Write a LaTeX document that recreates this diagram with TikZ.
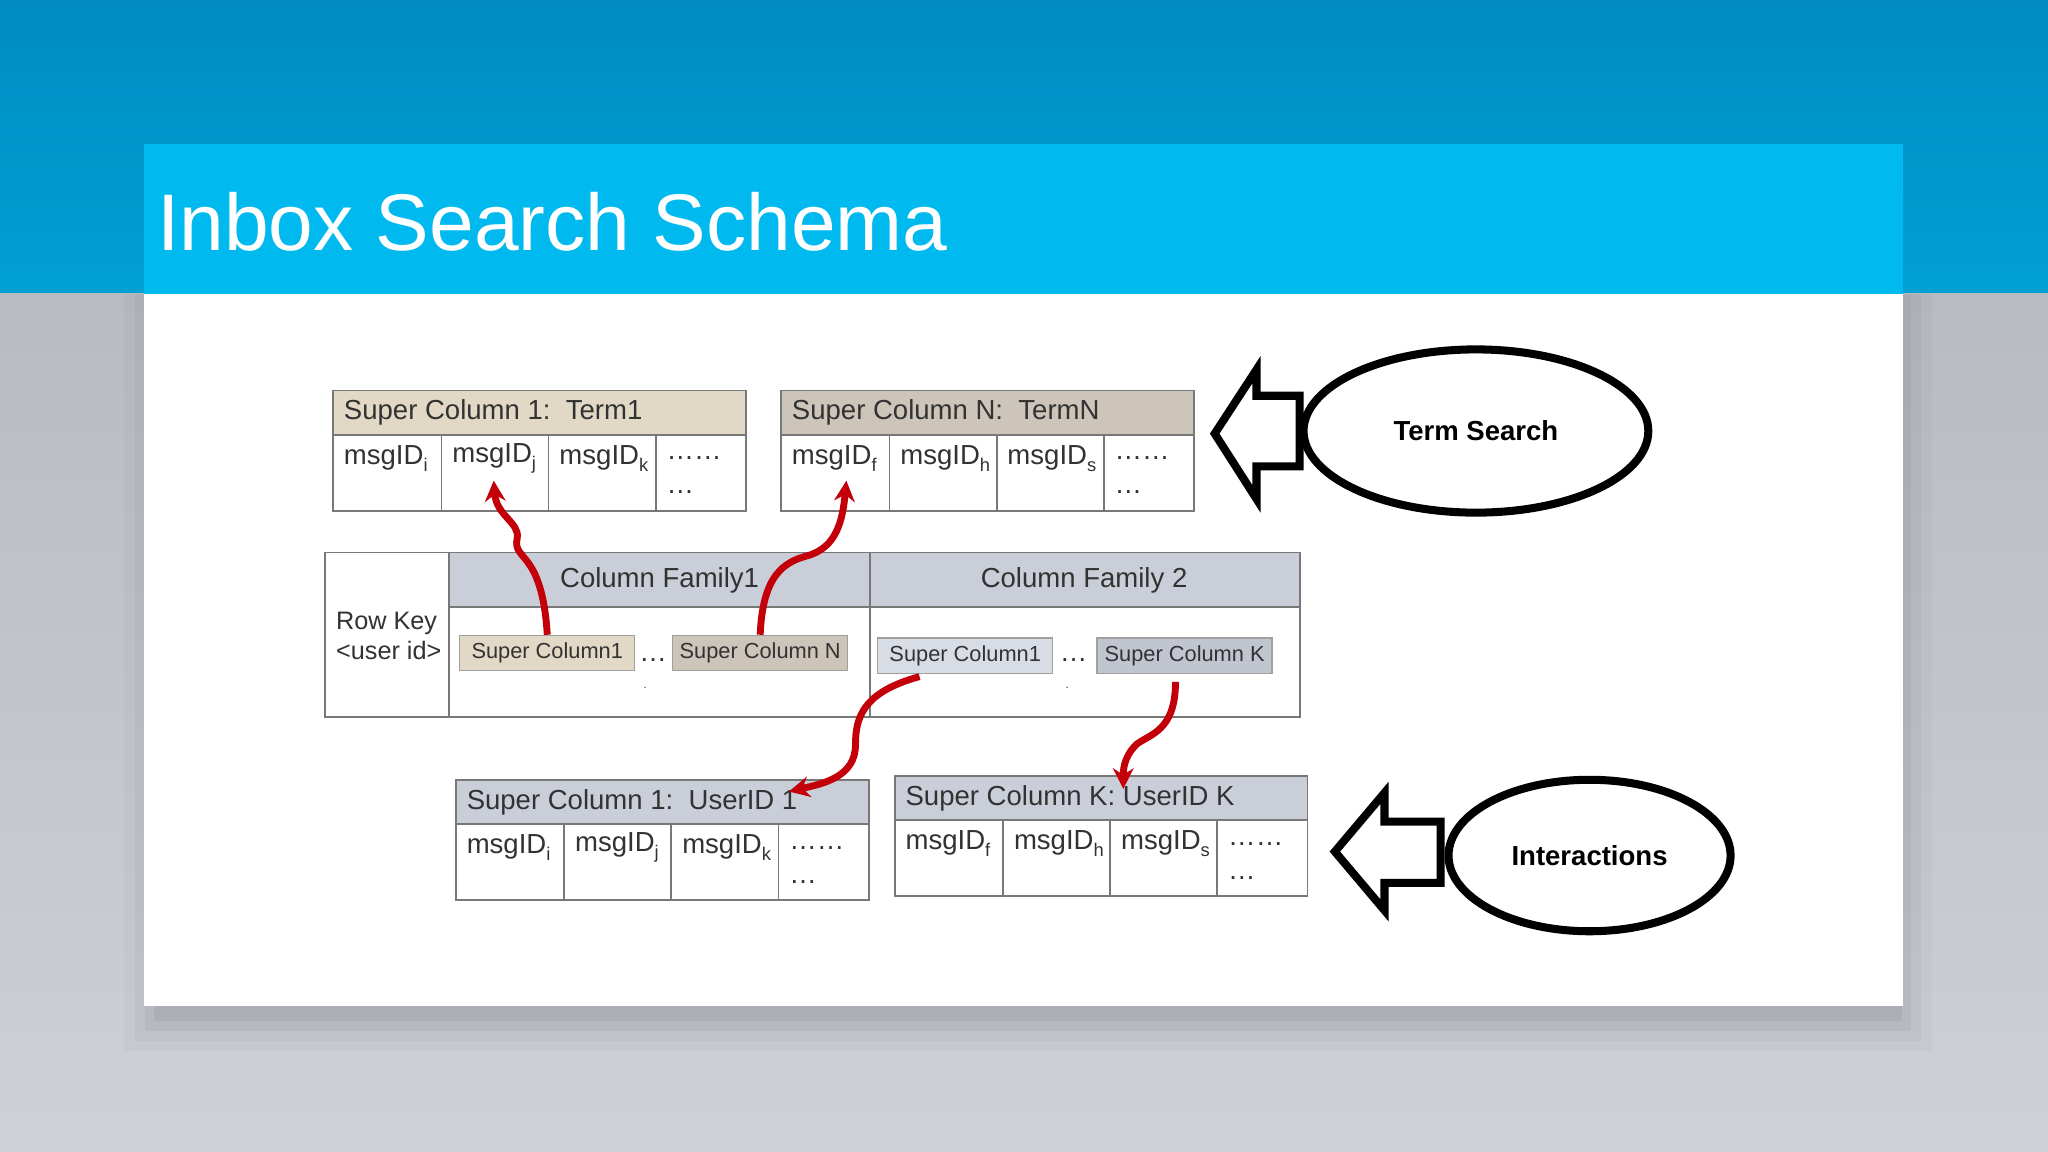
\documentclass[tikz,border=0pt]{standalone}
\usepackage{fontspec}
\setmainfont{Liberation Sans}
\usetikzlibrary{calc,arrows.meta,shapes.geometric}
\definecolor{topbg}{RGB}{0,140,195}
\definecolor{topbg2}{RGB}{0,160,210}
\definecolor{graybg}{RGB}{200,204,210}
\definecolor{titlebar}{RGB}{0,185,238}
\definecolor{beige}{RGB}{226,216,198}
\definecolor{beige2}{RGB}{205,196,186}
\definecolor{bgray}{RGB}{202,206,216}
\definecolor{bgray1}{RGB}{216,220,228}
\definecolor{bgray2}{RGB}{192,197,208}
\definecolor{tline}{RGB}{120,120,120}
\definecolor{arrred}{RGB}{195,0,10}
\definecolor{txt}{RGB}{50,50,50}
\tikzset{
  cell/.style={draw=tline,line width=0.8pt},
  ttext/.style={font=\fontsize{12pt}{14pt}\selectfont,text=txt,inner sep=0pt},
  scbox/.style={draw=tline!70,line width=0.6pt,minimum width=2.68cm,minimum height=0.54cm,font=\fontsize{9.5pt}{11pt}\selectfont,text=txt,inner sep=0pt},
  redarr/.style={draw=arrred,line width=3pt,-{Stealth[length=9pt,width=9pt]}},
  ell/.style={draw=black,line width=3.5pt,ellipse},
  blk/.style={draw=black,line width=3.5pt,fill=white,line join=miter}
}
\newcommand{\msg}[1]{msgID\raisebox{-0.5ex}{\fontsize{8pt}{9pt}\selectfont #1}}
% table: x0, y0, header color, header text, three ids
\newcommand{\mktable}[7]{%
  \fill[#3] (#1,#2) rectangle ++(316,34);
  \draw[cell] (#1,#2) rectangle ++(316,92);
  \draw[cell] (#1,#2+34) -- ++(316,0);
  \foreach \dx in {83,165,247}{\draw[cell] (#1+\dx,#2+34) -- ++(0,58);}
  \node[ttext,anchor=west] at (#1+8,#2+17) {#4};
  \node[ttext,anchor=west] at (#1+8,#2+52) {\msg{#5}};
  \node[ttext,anchor=west] at (#1+91,#2+52) {\msg{#6}};
  \node[ttext,anchor=west] at (#1+173,#2+52) {\msg{#7}};
  \node[ttext,anchor=west] at (#1+255,#2+52) {\ldots\ldots};
  \node[ttext,anchor=west] at (#1+255,#2+78) {\ldots};
}
\begin{document}
\begin{tikzpicture}[x=0.02cm,y=-0.02cm]
\useasboundingbox (0,0) rectangle (1568,882);
\shade[top color=topbg,bottom color=topbg2] (0,0) rectangle (1568,225);
\shade[top color=graybg!92!black,bottom color=graybg!90!white] (0,225) rectangle (1568,882);
% shadow
\foreach \i/\o in {30/0.025,22/0.03,14/0.04,7/0.05}{
  \fill[black,opacity=\o] (110-\i+15,225) rectangle (1457+\i-8,770+\i+5);}
\fill[white] (110,110) rectangle (1457,770);
\fill[titlebar] (110,110) rectangle (1457,225);
\node[anchor=west,text=white,font=\fontsize{35pt}{38pt}\selectfont,inner sep=0pt] (title) at (120,170) {Inbox Search Schema};

\mktable{255}{299}{beige}{Super Column 1:\ \ Term1}{i}{j}{k}
\mktable{598}{299}{beige2}{Super Column N:\ \ TermN}{f}{h}{s}
\mktable{349}{597}{bgray}{Super Column 1:\ \ UserID 1}{i}{j}{k}
\mktable{685}{594}{bgray}{Super Column K: UserID K}{f}{h}{s}

% main table
\fill[bgray] (344,423) rectangle (995,465);
\draw[cell] (249,423) rectangle (995,549);
\draw[cell] (344,423) -- (344,549);
\draw[cell] (344,465) -- (995,465);
\draw[cell] (666,423) -- (666,549);
\node[ttext] (cf1) at (505,444) {Column Family1};
\node[ttext] (cf2) at (830,444) {Column Family 2};
\node[ttext,align=left,font=\fontsize{11pt}{13pt}\selectfont,anchor=west] (rk) at (257,487) {Row Key\\<user id>};
\node[scbox,fill=beige] (s1) at (419,500) {Super Column1};
\node[scbox,fill=beige2] (sn) at (582,500) {Super Column N};
\node[scbox,fill=bgray1] (s2) at (739,502) {Super Column1};
\node[scbox,fill=bgray2] (sk) at (907,502) {Super Column K};
\node[ttext] at (500,505) {\ldots};
\node[ttext] at (822,505) {\ldots};
\node[ttext,font=\tiny] at (494,527) {.};
\node[ttext,font=\tiny] at (817,527) {.};

\coordinate (t1) at (378,368);
\coordinate (t2) at (648,368);
\coordinate (t3) at (604,606);
\coordinate (t4) at (860,604);
\draw[redarr] (s1.north) .. controls (415,420) and (392,430) .. (396,412) .. controls (398,400) and (380,395) .. (t1);
\draw[redarr] (sn.north) .. controls (584,440) and (600,430) .. (620,425) .. controls (640,418) and (645,400) .. (t2);
\draw[redarr] ($(s2.south)+(-35,2)$) .. controls (660,530) and (655,550) .. (655,570) .. controls (655,595) and (630,600) .. (t3);
\draw[redarr] ($(sk.south)+(-7,6)$) .. controls (900,560) and (880,562) .. (870,570) .. controls (860,580) and (860,590) .. (t4);

% ellipses
\node[ell,minimum width=5.28cm,minimum height=2.5cm,font=\bfseries\fontsize{12pt}{14pt}\selectfont] (ts) at (1130,330) {Term Search};
\node[ell,minimum width=4.32cm,minimum height=2.32cm,font=\bfseries\fontsize{12pt}{14pt}\selectfont] (ia) at (1217,655) {Interactions};
\draw[blk] (930,332) -- (962,283) -- (962,303) -- (995,303) -- (995,357) -- (962,357) -- (962,382) -- cycle;
\draw[blk] (1022,652) -- (1060,607) -- (1060,629) -- (1103,629) -- (1103,676) -- (1060,676) -- (1060,697) -- cycle;
\end{tikzpicture}
\end{document}
